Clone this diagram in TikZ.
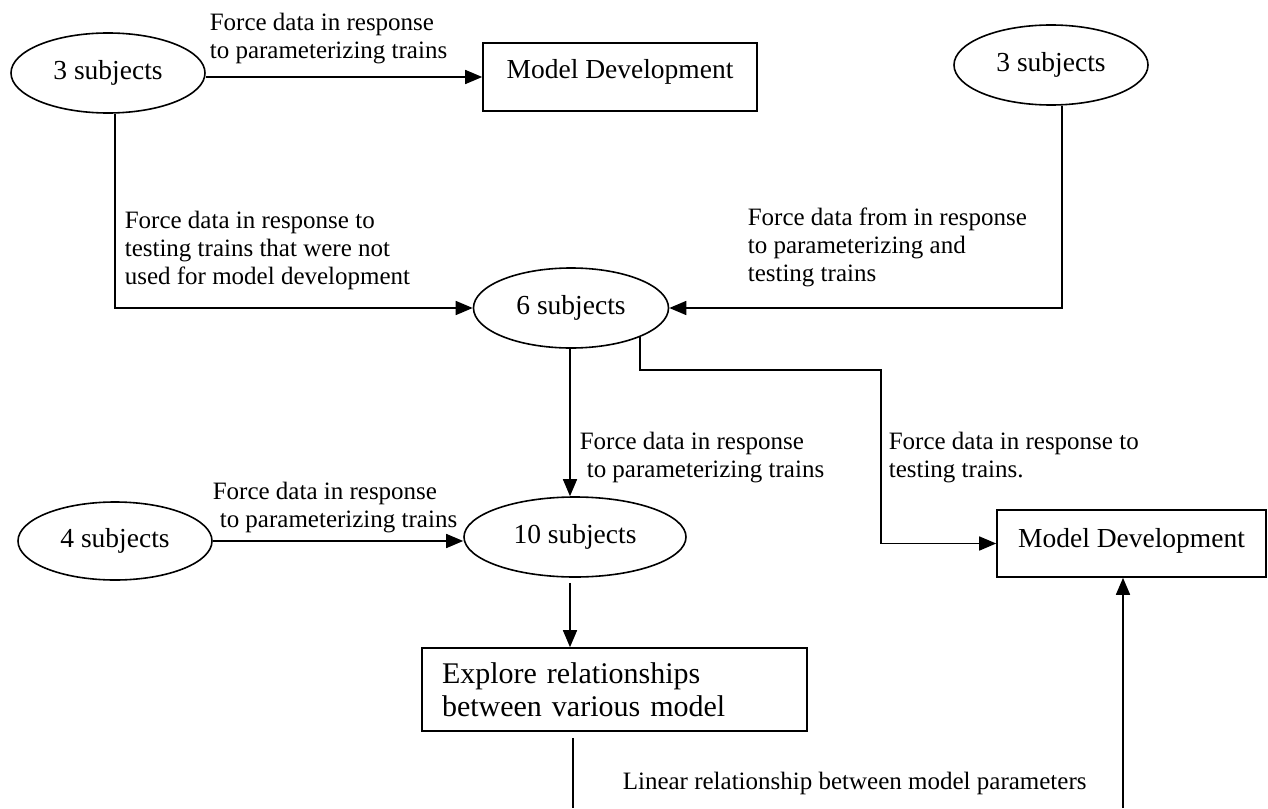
\documentclass[tikz,border=0pt]{standalone}
\usepackage{fontspec}
\setmainfont{Liberation Serif}
\usetikzlibrary{shapes.geometric,arrows.meta}
\begin{document}
\begin{tikzpicture}[x=0.5pt,y=-0.5pt,
  line width=0.8pt,
  arr/.style={-{Triangle[length=8.5pt,width=7pt]}},
  subj/.style={draw,ellipse,inner sep=0pt,minimum width=97pt,minimum height=40pt,font=\fontsize{13.75}{16}\selectfont},
  mdbox/.style={draw,rectangle,inner sep=0pt,font=\fontsize{13.75}{16}\selectfont},
  lbl/.style={anchor=north west,inner sep=0pt,align=left,font=\fontsize{12.5}{14}\selectfont}]
\useasboundingbox (0,0) rectangle (1268,808);
% nodes
\node[subj] (e1) at (108,73) {3 subjects};
\node[mdbox,minimum width=137pt,minimum height=34pt,text height=9.5pt,text depth=7.5pt] (box1) at (620,77) {Model Development};
\node[subj] (e2) at (1051,65) {3 subjects};
\node[subj,minimum width=97.5pt] (e3) at (571,308) {6 subjects};
\node[subj,minimum width=111pt] (e4) at (575,537) {10 subjects};
\node[subj,minimum height=39pt] (e5) at (115,541) {4 subjects};
\node[mdbox,minimum width=134.5pt,minimum height=33.5pt,text height=9.5pt,text depth=6pt] (box2) at (1131.5,543.5) {Model Development};
\node[draw,rectangle,inner xsep=10pt,inner ysep=0pt,minimum height=41.5pt,text width=172.5pt,align=left,font=\fontsize{15}{16.5}\selectfont] (box3) at (614.5,689.5) {\rule{0pt}{8pt}Explore relationships\\between various model};
% labels
\node[lbl] (l1) at (209,12) {Force data in response\\to parameterizing trains};
\node[lbl] (l2) at (124,210) {Force data in response to\\testing trains that were not\\used for model development};
\node[lbl] (l3) at (747,207) {Force data from in response\\to parameterizing and\\testing trains};
\node[lbl] (l4) at (579,431) {Force data in response\\\hspace*{3.5pt}to parameterizing trains};
\node[lbl] (l5) at (888,431) {Force data in response to\\testing trains.};
\node[lbl] (l6) at (212,481) {Force data in response\\\hspace*{3.5pt}to parameterizing trains};
\node[lbl] (l7) at (622,771) {Linear relationship between model parameters};
% free ends
\coordinate (c1) at (881,370);
\coordinate (b1) at (573,808);
\coordinate (b2) at (1123,808);
% connectors
\draw[arr] (e1.east |- box1.west) -- (box1.west);
\draw[arr] ([xshift=3.5pt]e1.south) |- (e3.west);
\draw[arr] ([xshift=5.5pt]e2.south) |- (e3.east);
\draw[arr] ([xshift=-0.5pt]e3.south) -- ([xshift=-0.5pt]e3.south |- e4.north);
\draw[arr] (e3.-23) |- (c1) |- (box2.west);
\draw[arr] (e5.east) -- (e5.east -| e4.west);
\draw[arr] ([xshift=-2.5pt,yshift=-2.5pt]e4.south) -- ([xshift=-2.5pt]e4.south |- box3.north);
\draw ([yshift=-3pt]b1 |- box3.south) -- (b1);
\draw[arr] (b2) -- (b2 |- box2.south);
\end{tikzpicture}
\end{document}
